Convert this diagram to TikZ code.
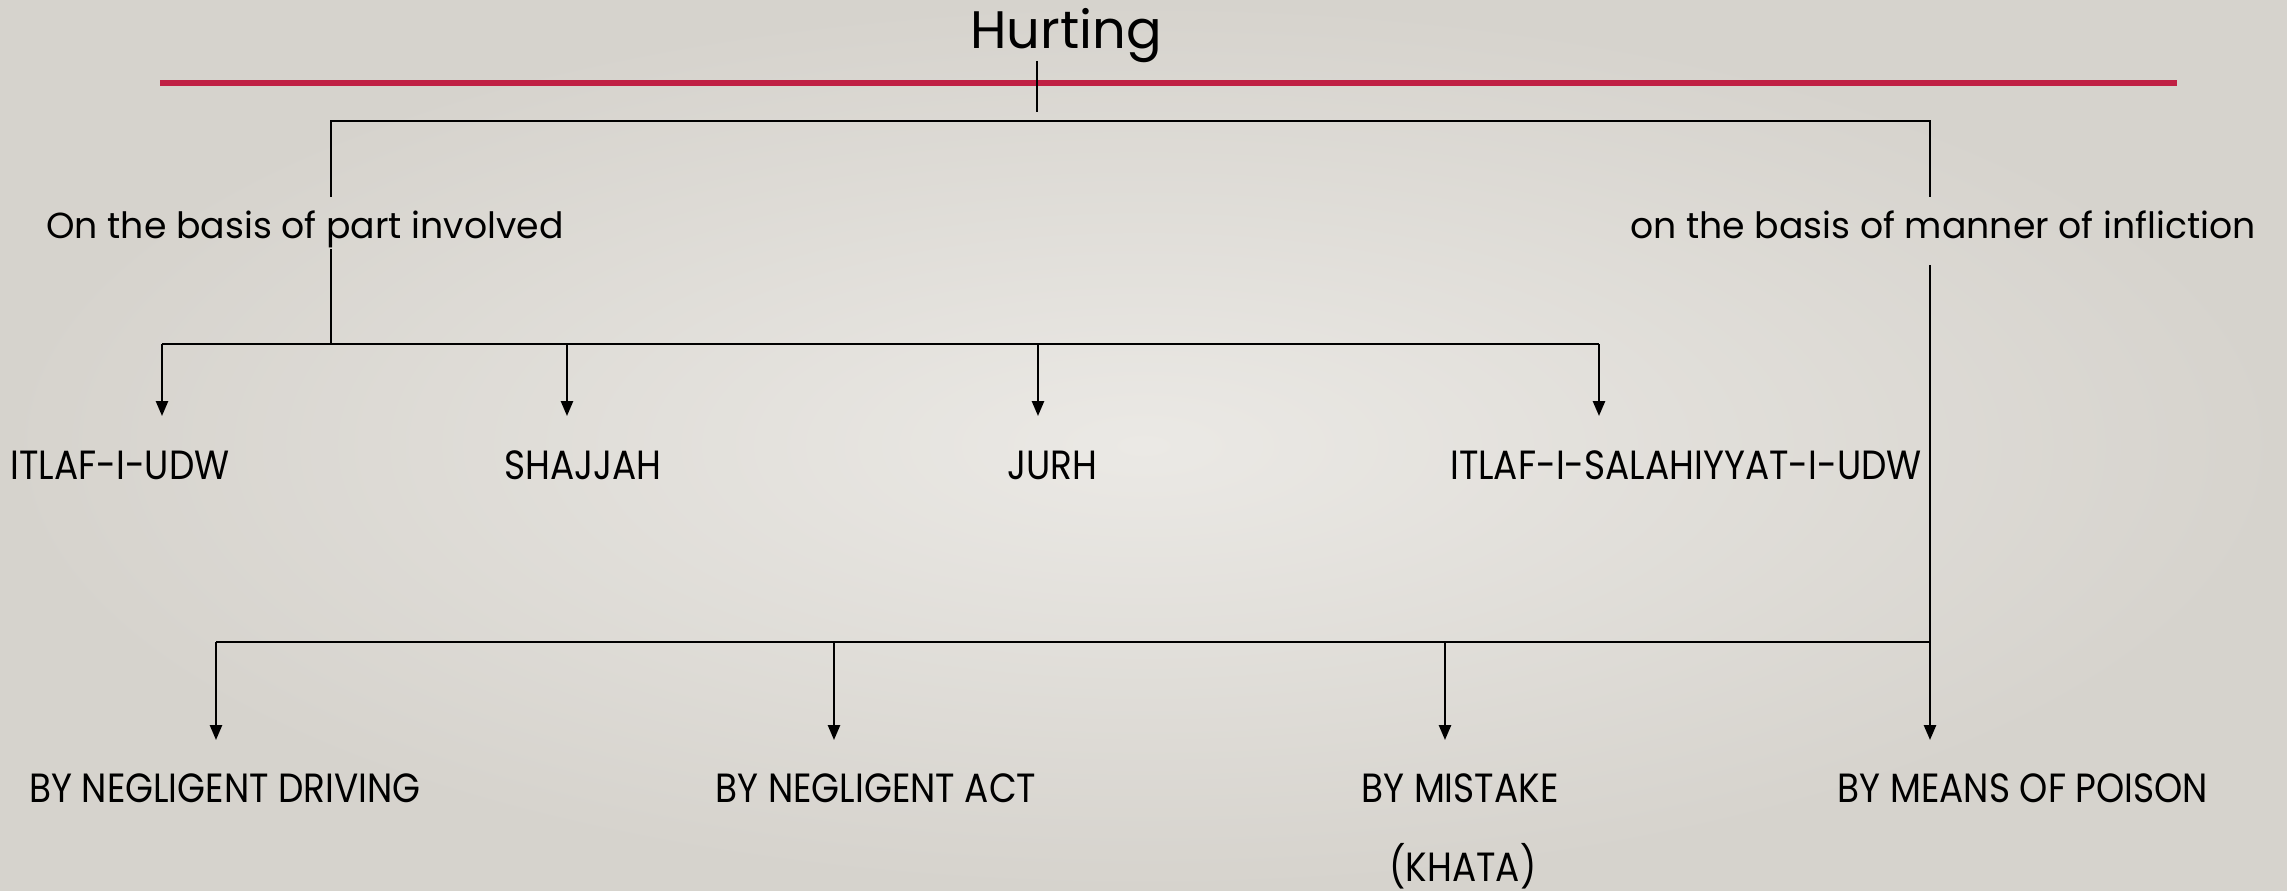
\documentclass[tikz,border=0pt]{standalone}
\usepackage{fontspec}
\usepackage{tikz}
\usetikzlibrary{arrows.meta}
\setmainfont{Poppins}
\newfontfamily\capsfont[FakeStretch=0.88]{Poppins}
\definecolor{slidein}{RGB}{235,233,229}
\definecolor{slideout}{RGB}{214,211,205}
\definecolor{rulered}{RGB}{192,32,68}
\tikzset{
  line/.style={black, line width=0.6pt},
  arr/.style={line, -{Triangle[length=4.2pt,width=3.4pt]}},
  sub/.style={font=\fontsize{10.3}{13}\selectfont, inner sep=0pt},
  leaf/.style={font=\capsfont\fontsize{11.6}{13}\selectfont, inner sep=0pt}
}
\begin{document}
\begin{tikzpicture}[x=0.01cm, y=-0.01cm]
\shade [inner color=slidein, outer color=slideout] (0,0) rectangle (2287,891);
\useasboundingbox (0,0) rectangle (2287,891);
\draw [rulered, line width=1.7pt] (160,83) -- (2177,83);
\node (hurt) at (1066,36) {\fontsize{15}{18}\selectfont Hurting};
\coordinate (ht) at (1037,61);
\coordinate (hb) at (1037,112);
\coordinate (tl) at (331,121);
\coordinate (tr) at (1930,121);
\node [sub] (part) at (305,229) {On the basis of part involved};
\node [sub] (manner) at (1943,225) {on the basis of manner of infliction};
\coordinate (pa) at (331,197);
\coordinate (pb) at (331,249);
\coordinate (ma) at (1930,197);
\coordinate (mb) at (1930,265);
% first branch
\coordinate (j1) at (331,344);
\coordinate (l1) at (162,344);
\coordinate (r1) at (1599,344);
\node [leaf] (udw) at (120,465) {ITLAF-I-UDW};
\node [leaf] (shaj) at (583,465) {SHAJJAH};
\node [leaf] (jurh) at (1052,465) {JURH};
\node [leaf] (salah) at (1686,465) {ITLAF-I-SALAHIYYAT-I-UDW};
% second branch
\coordinate (j2) at (1930,642);
\coordinate (l2) at (216,642);
\node [leaf] (drive) at (225,788) {BY NEGLIGENT DRIVING};
\node [leaf] (act) at (876,788) {BY NEGLIGENT ACT};
\node [leaf] (mist) at (1460,788) {BY MISTAKE};
\node [leaf] (khata) at (1463,866) {(KHATA)};
\node [leaf] (poison) at (2023,788) {BY MEANS OF POISON};
\draw [line] (ht) -- (hb);
\draw [line] (pa) -- (tl) -- (tr) -- (ma);
\draw [line] (pb) -- (j1);
\draw [line] (l1) -- (r1);
\draw [arr] (l1) -- (162,416);
\draw [arr] (567,344) -- (567,416);
\draw [arr] (1038,344) -- (1038,416);
\draw [arr] (r1) -- (1599,416);
\draw [line] (l2) -- (j2);
\draw [arr] (mb) -- (1930,740);
\draw [arr] (l2) -- (216,740);
\draw [arr] (834,642) -- (834,740);
\draw [arr] (1445,642) -- (1445,740);
\end{tikzpicture}
\end{document}
